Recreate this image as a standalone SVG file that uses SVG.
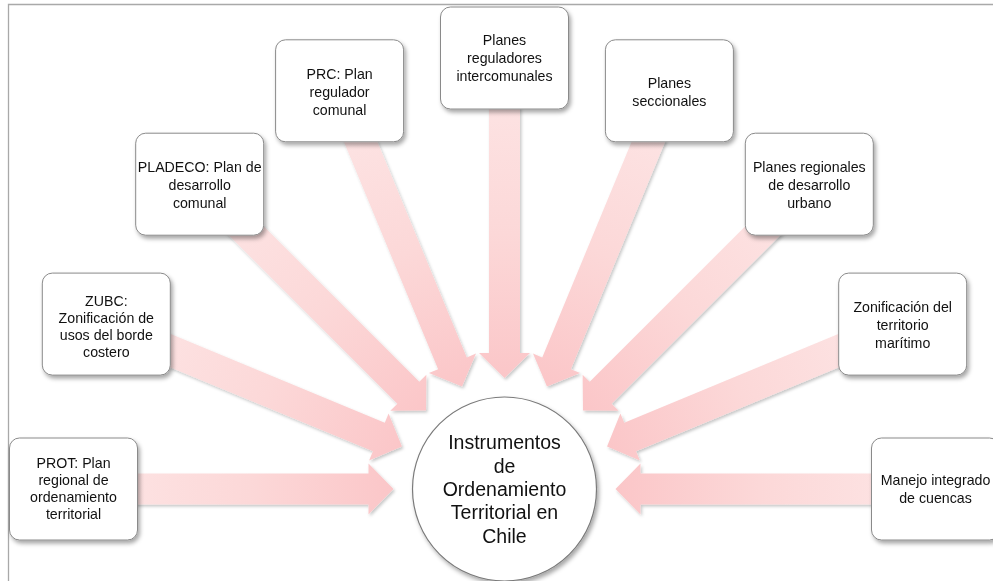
<svg xmlns="http://www.w3.org/2000/svg" xmlns:xlink="http://www.w3.org/1999/xlink" width="993" height="581" viewBox="0 0 993 581">
  <defs>
    <style>
      .frame { fill: none; stroke: #a9a9a9; stroke-width: 1.3; }
      .box { fill: #ffffff; stroke: #8a8a8a; stroke-width: 1; }
      .hub { fill: #ffffff; stroke: #7a7a7a; stroke-width: 1.2; }
      .lbl { font-family: "Liberation Sans", Arial, sans-serif; font-size: 14.2px; fill: #111111; text-anchor: middle; }
      .hubtxt { font-family: "Liberation Sans", Arial, sans-serif; font-size: 19.5px; fill: #111111; text-anchor: middle; }
      .arrow { fill: url(#arrowFill); }
    </style>
    <!-- pink fill, lighter at the tail, stronger toward the head -->
    <linearGradient id="arrowFill" x1="1" y1="0" x2="0" y2="0">
      <stop offset="0" stop-color="#fde6e6"/>
      <stop offset="0.55" stop-color="#fcd8d8"/>
      <stop offset="1" stop-color="#fbc6c8"/>
    </linearGradient>
    <filter id="softShadow" x="-10%" y="-10%" width="130%" height="130%">
      <feDropShadow dx="1.5" dy="2" stdDeviation="1.6" flood-color="#000000" flood-opacity="0.22"/>
    </filter>
    <filter id="boxShadow" x="-10%" y="-10%" width="130%" height="135%">
      <feDropShadow dx="2" dy="3" stdDeviation="2" flood-color="#000000" flood-opacity="0.35"/>
    </filter>
    <!-- block arrow lying on the +x axis of the hub, pointing back to the hub (tip 111 from centre) -->
    <path id="blockArrow" class="arrow" d="M431,-15.5 H136 V-25.5 L111,0 L136,25.5 V15.5 H431 Z"/>
  </defs>

  <!-- page frame -->
  <path class="frame" d="M8.5,581 V4.5 H993"/>

  <!-- connectors: nine block arrows converging on the hub -->
  <g id="connectors" filter="url(#softShadow)">
    <use xlink:href="#blockArrow" transform="translate(504.5,489) rotate(180)"/>
    <use xlink:href="#blockArrow" transform="translate(504.5,489) rotate(-157.5)"/>
    <use xlink:href="#blockArrow" transform="translate(504.5,489) rotate(-135)"/>
    <use xlink:href="#blockArrow" transform="translate(504.5,489) rotate(-112.5)"/>
    <use xlink:href="#blockArrow" transform="translate(504.5,489) rotate(-90)"/>
    <use xlink:href="#blockArrow" transform="translate(504.5,489) rotate(-67.5)"/>
    <use xlink:href="#blockArrow" transform="translate(504.5,489) rotate(-45)"/>
    <use xlink:href="#blockArrow" transform="translate(504.5,489) rotate(-22.5)"/>
    <use xlink:href="#blockArrow" transform="translate(504.5,489) rotate(0)"/>
  </g>

  <!-- hub -->
  <g id="hub">
    <circle class="hub" cx="504.5" cy="489" r="92" filter="url(#boxShadow)"/>
    <text class="hubtxt" x="504.5" y="449">Instrumentos</text>
    <text class="hubtxt" x="504.5" y="472.5">de</text>
    <text class="hubtxt" x="504.5" y="496">Ordenamiento</text>
    <text class="hubtxt" x="504.5" y="519">Territorial en</text>
    <text class="hubtxt" x="504.5" y="542.5">Chile</text>
  </g>

  <!-- instrument boxes, 128 x 102, placed on a ring around the hub -->
  <g id="node-prot">
    <rect class="box" x="9.5" y="438" width="128" height="102" rx="10" filter="url(#boxShadow)"/>
    <text class="lbl" x="73.5" y="468">PROT: Plan</text>
    <text class="lbl" x="73.5" y="485">regional de</text>
    <text class="lbl" x="73.5" y="502">ordenamiento</text>
    <text class="lbl" x="73.5" y="519">territorial</text>
  </g>

  <g id="node-zubc">
    <rect class="box" x="42.3" y="273.1" width="128" height="102" rx="10" filter="url(#boxShadow)"/>
    <text class="lbl" x="106.3" y="306">ZUBC:</text>
    <text class="lbl" x="106.3" y="323">Zonificación de</text>
    <text class="lbl" x="106.3" y="340">usos del borde</text>
    <text class="lbl" x="106.3" y="357">costero</text>
  </g>

  <g id="node-pladeco">
    <rect class="box" x="135.7" y="133.2" width="128" height="102" rx="10" filter="url(#boxShadow)"/>
    <text class="lbl" x="199.7" y="171.5">PLADECO: Plan de</text>
    <text class="lbl" x="199.7" y="189.5">desarrollo</text>
    <text class="lbl" x="199.7" y="207.5">comunal</text>
  </g>

  <g id="node-prc">
    <rect class="box" x="275.6" y="39.8" width="128" height="102" rx="10" filter="url(#boxShadow)"/>
    <text class="lbl" x="339.6" y="78.5">PRC: Plan</text>
    <text class="lbl" x="339.6" y="96.5">regulador</text>
    <text class="lbl" x="339.6" y="114.5">comunal</text>
  </g>

  <g id="node-pri">
    <rect class="box" x="440.5" y="7" width="128" height="102" rx="10" filter="url(#boxShadow)"/>
    <text class="lbl" x="504.5" y="45">Planes</text>
    <text class="lbl" x="504.5" y="63">reguladores</text>
    <text class="lbl" x="504.5" y="81">intercomunales</text>
  </g>

  <g id="node-seccionales">
    <rect class="box" x="605.4" y="39.8" width="128" height="102" rx="10" filter="url(#boxShadow)"/>
    <text class="lbl" x="669.4" y="87.5">Planes</text>
    <text class="lbl" x="669.4" y="105.5">seccionales</text>
  </g>

  <g id="node-prdu">
    <rect class="box" x="745.3" y="133.2" width="128" height="102" rx="10" filter="url(#boxShadow)"/>
    <text class="lbl" x="809.3" y="171.5">Planes regionales</text>
    <text class="lbl" x="809.3" y="189.5">de desarrollo</text>
    <text class="lbl" x="809.3" y="207.5">urbano</text>
  </g>

  <g id="node-maritimo">
    <rect class="box" x="838.7" y="273.1" width="128" height="102" rx="10" filter="url(#boxShadow)"/>
    <text class="lbl" x="902.7" y="312">Zonificación del</text>
    <text class="lbl" x="902.7" y="330">territorio</text>
    <text class="lbl" x="902.7" y="348">marítimo</text>
  </g>

  <g id="node-cuencas">
    <rect class="box" x="871.5" y="438" width="128" height="102" rx="10" filter="url(#boxShadow)"/>
    <text class="lbl" x="935.5" y="485">Manejo integrado</text>
    <text class="lbl" x="935.5" y="503">de cuencas</text>
  </g>
</svg>
